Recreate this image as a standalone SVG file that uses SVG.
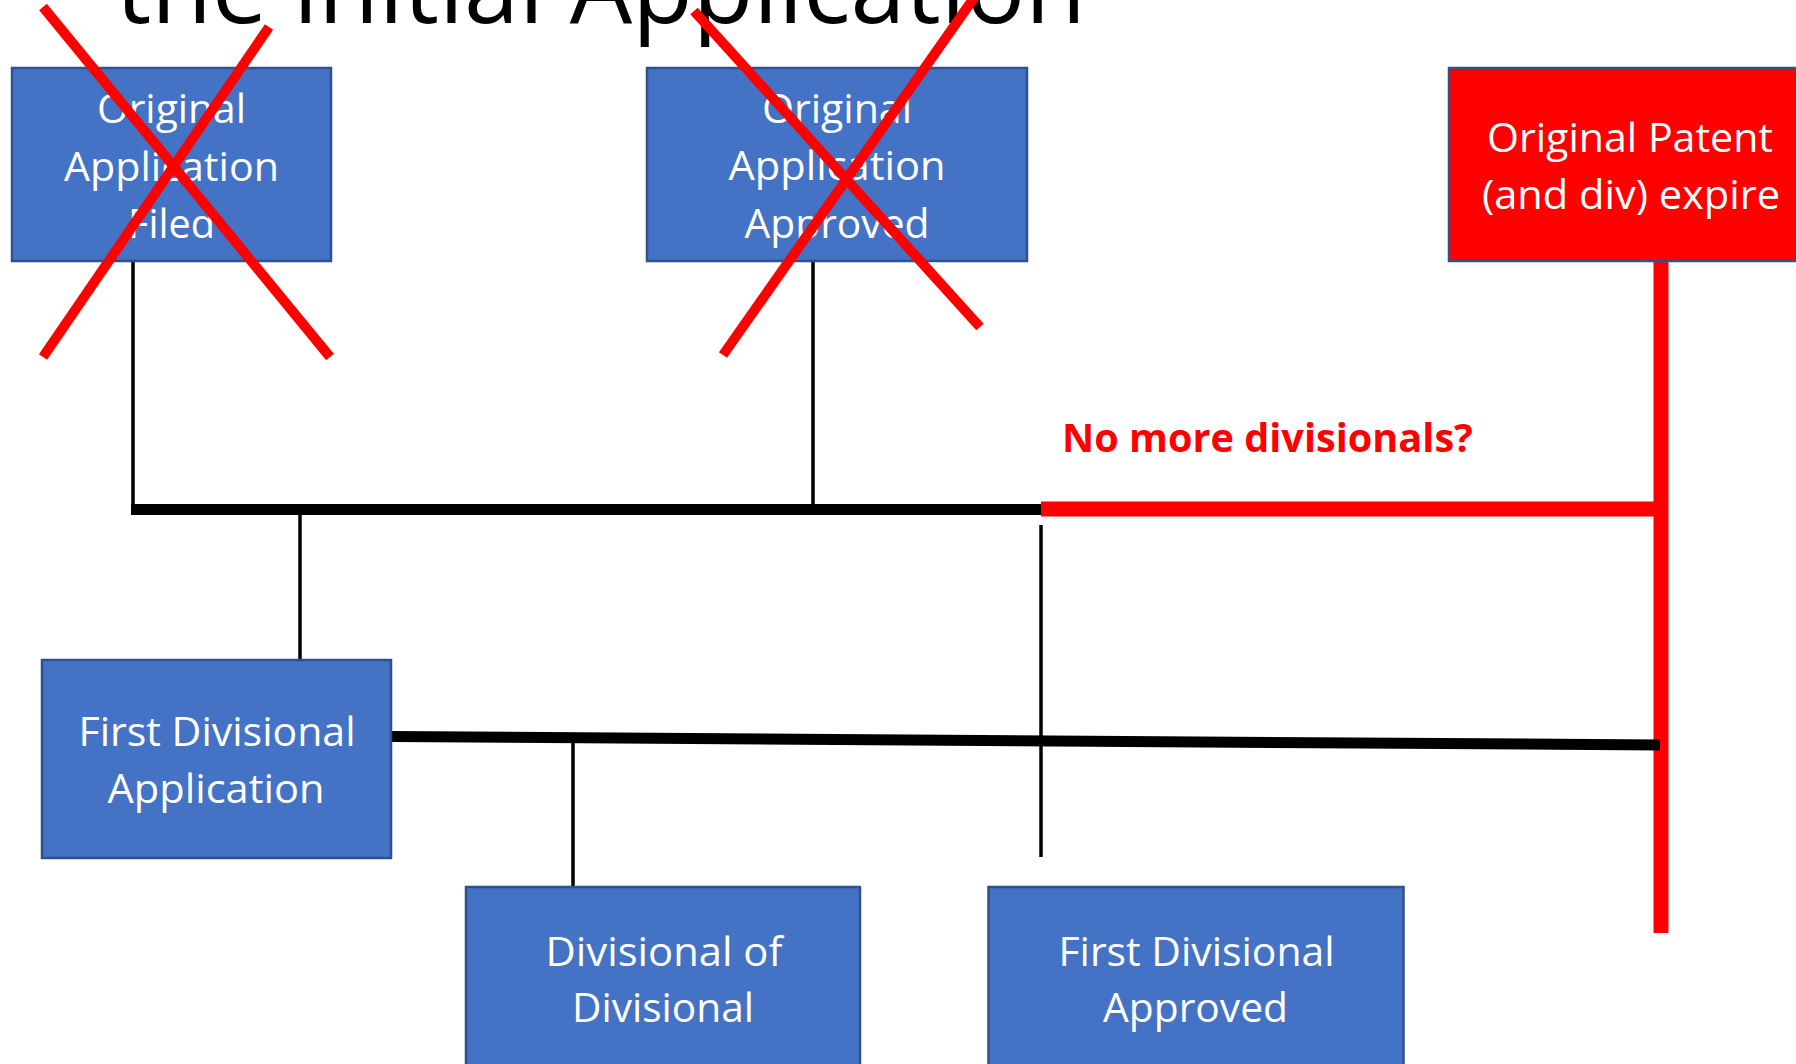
<svg xmlns="http://www.w3.org/2000/svg" width="1796" height="1064" viewBox="0 0 1796 1064">
  <style>
    .box { fill: #4472C4; stroke: #2F528F; stroke-width: 2.5; }
    .boxRed { fill: #FF0000; stroke: #2F528F; stroke-width: 2.5; }
    .lbl { font-family: "Open Sans", "Liberation Sans", sans-serif; font-size: 41px; fill: #FFFFFF; text-anchor: middle; }
    .thin { stroke: #000000; stroke-width: 3.5; fill: none; }
    .bar { stroke: #000000; stroke-width: 11; fill: none; }
    .redbar { stroke: #FF0000; stroke-width: 15; fill: none; }
    .cross { stroke: #FF0000; stroke-width: 10; fill: none; }
  </style>

  <rect width="1796" height="1064" fill="#FFFFFF"/>

  <!-- slide title, clipped by the top edge -->
  <text x="116" y="23" font-family="'Open Sans', 'Liberation Sans', sans-serif" font-size="99" fill="#000000" textLength="970" lengthAdjust="spacingAndGlyphs">the initial Application</text>

  <!-- connectors -->
  <g id="connectors">
    <line class="thin" x1="133" y1="261" x2="133" y2="510"/>
    <line class="thin" x1="813" y1="261" x2="813" y2="509"/>
    <line class="thin" x1="300" y1="512" x2="300" y2="660"/>
    <line class="thin" x1="573" y1="742" x2="573" y2="887"/>
    <line class="bar" x1="131" y1="509.5" x2="1041" y2="509.5"/>
    <line class="redbar" x1="1041" y1="509" x2="1661" y2="509"/>
    <line class="redbar" x1="1661" y1="261" x2="1661" y2="933"/>
    <line class="bar" x1="391" y1="736.5" x2="1660" y2="745"/>
    <line class="thin" x1="1041" y1="525" x2="1041" y2="857"/>
  </g>

  <g id="node-original-filed">
    <rect class="box" x="12" y="68" width="319" height="193"/>
    <text class="lbl" x="171.5" y="123" textLength="149" lengthAdjust="spacingAndGlyphs">Original</text>
    <text class="lbl" x="171.5" y="181" textLength="215" lengthAdjust="spacingAndGlyphs">Application</text>
    <text class="lbl" x="171.5" y="238" textLength="87" lengthAdjust="spacingAndGlyphs">Filed</text>
  </g>

  <g id="node-original-approved">
    <rect class="box" x="647" y="68" width="380" height="193"/>
    <text class="lbl" x="837" y="123" textLength="150" lengthAdjust="spacingAndGlyphs">Original</text>
    <text class="lbl" x="837" y="180" textLength="217" lengthAdjust="spacingAndGlyphs">Application</text>
    <text class="lbl" x="837" y="238" textLength="185" lengthAdjust="spacingAndGlyphs">Approved</text>
  </g>

  <g id="node-patent-expire">
    <rect class="boxRed" x="1449" y="68" width="362" height="193"/>
    <text class="lbl" x="1630" y="152" textLength="286" lengthAdjust="spacingAndGlyphs">Original Patent</text>
    <text class="lbl" x="1631" y="209" textLength="298" lengthAdjust="spacingAndGlyphs">(and div) expire</text>
  </g>

  <g id="node-first-divisional">
    <rect class="box" x="42" y="660" width="349" height="198"/>
    <text class="lbl" x="217" y="746" textLength="277" lengthAdjust="spacingAndGlyphs">First Divisional</text>
    <text class="lbl" x="216" y="803" textLength="217" lengthAdjust="spacingAndGlyphs">Application</text>
  </g>

  <g id="node-divisional-of-divisional">
    <rect class="box" x="466" y="887" width="394" height="183"/>
    <text class="lbl" x="664" y="966" textLength="237" lengthAdjust="spacingAndGlyphs">Divisional of</text>
    <text class="lbl" x="663" y="1022" textLength="182" lengthAdjust="spacingAndGlyphs">Divisional</text>
  </g>

  <g id="node-first-divisional-approved">
    <rect class="box" x="988.5" y="887" width="415" height="183"/>
    <text class="lbl" x="1196.5" y="966" textLength="276" lengthAdjust="spacingAndGlyphs">First Divisional</text>
    <text class="lbl" x="1195.5" y="1022" textLength="185" lengthAdjust="spacingAndGlyphs">Approved</text>
  </g>

  <!-- strike-through marks over the original application steps -->
  <g id="strikes">
    <line class="cross" x1="43" y1="7" x2="330" y2="357"/>
    <line class="cross" x1="269" y1="27" x2="43" y2="357"/>
    <line class="cross" x1="694" y1="11" x2="980" y2="327"/>
    <line class="cross" x1="976" y1="-5" x2="723" y2="355"/>
  </g>

  <text id="label-no-more" x="1062" y="452" font-family="'Open Sans', 'Liberation Sans', sans-serif" font-weight="bold" font-size="40" fill="#FF0000" textLength="411" lengthAdjust="spacingAndGlyphs">No more divisionals?</text>
</svg>
